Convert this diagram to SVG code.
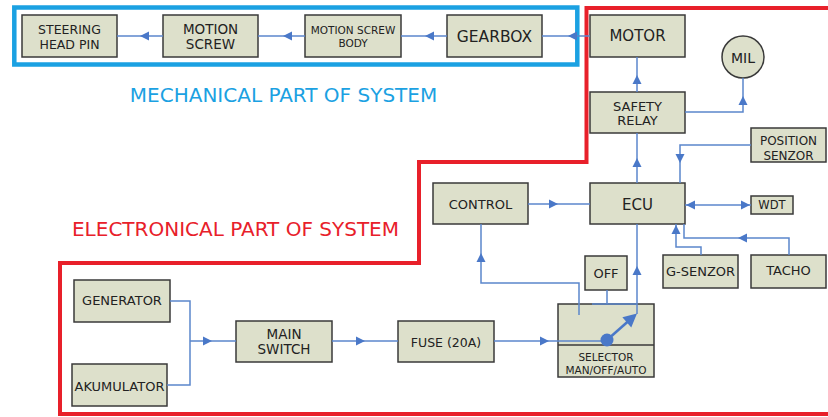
<svg xmlns="http://www.w3.org/2000/svg" xmlns:xlink="http://www.w3.org/1999/xlink" width="828" height="417" viewBox="0 0 828 417">
<style>
.box{fill:#dde0cb;stroke:#3a3a3a;stroke-width:1.5}
.t{font-family:"DejaVu Sans",Verdana,sans-serif;font-size:13px;fill:#222;text-anchor:middle}
.c{fill:none;stroke:#5b86cc;stroke-width:1.5}
.ah{fill:#4a78c8}
.big{font-family:"DejaVu Sans",Verdana,sans-serif;font-size:20px;text-anchor:middle}
</style>
<defs>
<path id="tri" d="M0,0 L-9,-4.5 L-9,4.5 Z"/>
</defs>
<rect width="828" height="417" fill="#fff"/>
<g id="frames">
<rect x="14.3" y="7.5" width="563" height="57" fill="none" stroke="#1ba1e2" stroke-width="4.5"/>
<path d="M828,8 H586.5 V162 H419 V263 H60 V414 H828" fill="none" stroke="#e8202a" stroke-width="4"/>
<text class="big" x="283.5" y="102" fill="#1ba1e2">MECHANICAL PART OF SYSTEM</text>
<text class="big" x="235.5" y="236" fill="#e8202a">ELECTRONICAL PART OF SYSTEM</text>
</g>
<g id="n-steering"><rect class="box" x="22" y="15" width="95" height="42"/><text class="t" x="69.5" y="34" style="font-size:12.5px">STEERING</text><text class="t" x="69.5" y="49" style="font-size:12.5px">HEAD PIN</text></g>
<g id="n-motionscrew"><rect class="box" x="163" y="15" width="95" height="42"/><text class="t" x="210.5" y="34" style="font-size:13.5px">MOTION</text><text class="t" x="210.5" y="49" style="font-size:13.5px">SCREW</text></g>
<g id="n-msbody"><rect class="box" x="305" y="15" width="96" height="42"/><text class="t" x="353" y="34" style="font-size:10.5px">MOTION SCREW</text><text class="t" x="353" y="47" style="font-size:10.5px">BODY</text></g>
<g id="n-gearbox"><rect class="box" x="447" y="15" width="95" height="42"/><text class="t" x="494.5" y="41.5" style="font-size:15.5px">GEARBOX</text></g>
<g id="n-motor"><rect class="box" x="590" y="15" width="95" height="42"/><text class="t" x="637.5" y="41" style="font-size:15px">MOTOR</text></g>
<g id="n-mil"><circle class="box" cx="743" cy="57" r="21"/><text class="t" x="743" y="63" style="font-size:14px">MIL</text></g>
<g id="n-safety"><rect class="box" x="590" y="92" width="95" height="41"/><text class="t" x="637.5" y="111">SAFETY</text><text class="t" x="637.5" y="125">RELAY</text></g>
<g id="n-position"><rect class="box" x="751" y="128" width="75" height="34"/><text class="t" x="788.5" y="145" style="font-size:12px">POSITION</text><text class="t" x="788.5" y="159.5" style="font-size:12px">SENZOR</text></g>
<g id="n-control"><rect class="box" x="433" y="183" width="95" height="41"/><text class="t" x="480.5" y="209">CONTROL</text></g>
<g id="n-ecu"><rect class="box" x="590" y="183" width="95" height="41"/><text class="t" x="637.5" y="210" style="font-size:15px">ECU</text></g>
<g id="n-wdt"><rect class="box" x="751" y="196" width="42" height="18"/><text class="t" x="772" y="208.5" style="font-size:11.5px">WDT</text></g>
<g id="n-gsenzor"><rect class="box" x="663" y="255" width="75" height="33"/><text class="t" x="700.5" y="276">G-SENZOR</text></g>
<g id="n-tacho"><rect class="box" x="751" y="255" width="75" height="33"/><text class="t" x="788.5" y="275">TACHO</text></g>
<g id="n-off"><rect class="box" x="585" y="256" width="42" height="34"/><text class="t" x="606" y="277.5">OFF</text></g>
<g id="n-selector"><rect class="box" x="558" y="304" width="96" height="73"/><line x1="558" y1="345" x2="654" y2="345" stroke="#3a3a3a" stroke-width="1.5"/>
<text class="t" x="606" y="360.5" style="font-size:10.5px">SELECTOR</text><text class="t" x="606" y="373.5" style="font-size:10.5px">MAN/OFF/AUTO</text></g>
<g id="n-generator"><rect class="box" x="74" y="280" width="96" height="42"/><text class="t" x="122" y="305">GENERATOR</text></g>
<g id="n-akumulator"><rect class="box" x="72" y="364" width="95" height="42"/><text class="t" x="119.5" y="390.5">AKUMULATOR</text></g>
<g id="n-mainswitch"><rect class="box" x="236" y="321" width="96" height="41"/><text class="t" x="284" y="339" style="font-size:13.5px">MAIN</text><text class="t" x="284" y="353.5" style="font-size:13.5px">SWITCH</text></g>
<g id="n-fuse"><rect class="box" x="398" y="321" width="96" height="41"/><text class="t" x="446" y="346.5" style="font-size:12.5px">FUSE (20A)</text></g>
<g id="connectors">
<path class="c" d="M590,36 H542"/><use href="#tri" class="ah" transform="translate(568,36) rotate(180)"/>
<path class="c" d="M447,36 H401"/><use href="#tri" class="ah" transform="translate(425,36) rotate(180)"/>
<path class="c" d="M305,36 H258"/><use href="#tri" class="ah" transform="translate(283,36) rotate(180)"/>
<path class="c" d="M163,36 H117"/><use href="#tri" class="ah" transform="translate(140,36) rotate(180)"/>
<path class="c" d="M637,92 V57"/><use href="#tri" class="ah" transform="translate(637,75) rotate(-90)"/>
<path class="c" d="M685,112 H743 V78"/><use href="#tri" class="ah" transform="translate(743,96) rotate(-90)"/>
<path class="c" d="M637,183 V133"/><use href="#tri" class="ah" transform="translate(637,158) rotate(-90)"/>
<path class="c" d="M751,145 H680 V183"/><use href="#tri" class="ah" transform="translate(680,163) rotate(90)"/>
<path class="c" d="M528,204 H590"/><use href="#tri" class="ah" transform="translate(558,204) rotate(0)"/>
<path class="c" d="M685,205 H751"/><use href="#tri" class="ah" transform="translate(686,205) rotate(180)"/><use href="#tri" class="ah" transform="translate(750,205) rotate(0)"/>
<path class="c" d="M701,255 V247 H676 V224"/><use href="#tri" class="ah" transform="translate(676,225) rotate(-90)"/>
<path class="c" d="M789,255 V238 H684 V224"/><use href="#tri" class="ah" transform="translate(738,238) rotate(180)"/>
<path class="c" d="M637,314 V224"/><use href="#tri" class="ah" transform="translate(637,266) rotate(-90)"/>
<path class="c" d="M494,341 H607"/><use href="#tri" class="ah" transform="translate(549,341) rotate(0)"/>
<path class="c" d="M607,290 V304 M592,304 H637"/>
<path class="c" d="M579,315 V283 H481 V224"/><use href="#tri" class="ah" transform="translate(481,253) rotate(-90)"/>
<path class="c" d="M170,301 H190 V385 H167 M190,341 H236"/><use href="#tri" class="ah" transform="translate(212,341) rotate(0)"/>
<path class="c" d="M332,341 H398"/><use href="#tri" class="ah" transform="translate(365,341) rotate(0)"/>
<circle cx="607" cy="340" r="6.5" fill="#4a78c8"/>
<path d="M607,340 L633,317" fill="none" stroke="#4a78c8" stroke-width="2.5"/>
<use href="#tri" class="ah" transform="translate(637,313.5) rotate(-41) scale(1.5)"/>
</g>
</svg>
